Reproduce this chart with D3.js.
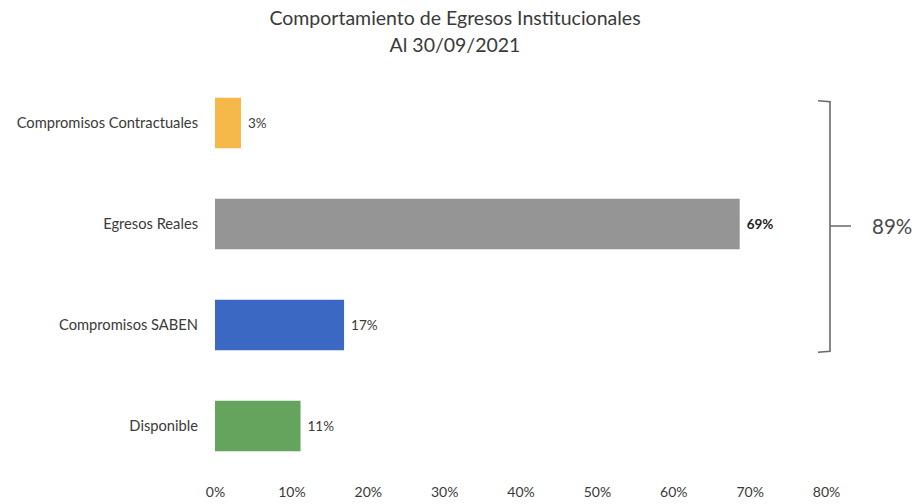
<!DOCTYPE html>
<html>
<head>
<meta charset="utf-8">
<script src="https://cdn.jsdelivr.net/npm/d3@7"></script>
<style>
  html, body { margin: 0; padding: 0; background: #fff; }
  svg { display: block; font-family: Lato, "Open Sans", sans-serif; }
</style>
</head>
<body>
<svg id="chart" width="915" height="504"></svg>
<script>
const titleLines = ["Comportamiento de Egresos Institucionales", "Al 30/09/2021"];
const categories = ["Compromisos Contractuales", "Egresos Reales", "Compromisos SABEN", "Disponible"];
const values = [3.4, 68.7, 16.9, 11.2];
const colors = ["#F7B84A", "#959595", "#3A68C2", "#64A45C"];
const tickValues = [0, 10, 20, 30, 40, 50, 60, 70, 80];
const bracketCategories = ["Compromisos Contractuales", "Egresos Reales", "Compromisos SABEN"];

(function () {
const svg = d3.select("#chart");
const textColor = "#3a3a3a";

const x = d3.scaleLinear().domain([0, 80]).range([215, 826]);
const y = d3.scaleBand().domain(categories).range([72.5, 476.5]).paddingInner(0.5).paddingOuter(0.25);

// Title
svg.append("g").selectAll("text").data(titleLines).join("text")
  .attr("x", 455).attr("y", (d, i) => 25 + i * 27)
  .attr("text-anchor", "middle")
  .attr("font-size", 19.5)
  .attr("fill", textColor)
  .text(d => d);

// Bars
svg.append("g").selectAll("rect").data(categories).join("rect")
  .attr("x", x(0))
  .attr("y", d => y(d))
  .attr("width", (d, i) => x(values[i]) - x(0))
  .attr("height", y.bandwidth())
  .attr("fill", (d, i) => colors[i]);

// Value labels
const fmt = v => Math.round(v) + "%";
svg.append("g").selectAll("text").data(categories).join("text")
  .attr("x", (d, i) => x(values[i]) + 7)
  .attr("y", d => y(d) + y.bandwidth() / 2)
  .attr("dy", "0.35em")
  .attr("font-size", 13.5)
  .attr("fill", (d, i) => i === 1 ? "#1e1e1e" : textColor)
  .attr("font-weight", (d, i) => i === 1 ? "bold" : "normal")
  .text((d, i) => fmt(values[i]));

// Y axis (category labels)
const yAxis = d3.axisLeft(y).tickSize(0).tickPadding(17);
const gy = svg.append("g").attr("transform", `translate(${x(0)},0)`).call(yAxis);
gy.select(".domain").remove();
gy.selectAll("text").attr("font-size", 14.7).attr("fill", textColor).attr("font-family", "Lato, sans-serif");

// X axis
const xAxis = d3.axisBottom(x).tickValues(tickValues).tickFormat(d => d + "%").tickSize(0).tickPadding(0);
const gx = svg.append("g").attr("transform", `translate(0,487)`).call(xAxis);
gx.select(".domain").remove();
gx.selectAll("text").attr("font-size", 14).attr("fill", textColor).attr("font-family", "Lato, sans-serif");

// Bracket
const bTop = y(bracketCategories[0]) + 3;
const bBottom = y(bracketCategories[bracketCategories.length - 1]) + y.bandwidth() + 2;
const bx = x(80) + 4;
const mid = 226;
const total = d3.sum(bracketCategories, c => values[categories.indexOf(c)]);
const path = d3.path();
path.moveTo(bx - 12, bTop);
path.lineTo(bx, bTop + 1);
path.lineTo(bx, bBottom - 1);
path.lineTo(bx - 12, bBottom);
path.moveTo(bx, mid);
path.lineTo(bx + 21, mid);
svg.append("path").attr("d", path.toString())
  .attr("fill", "none").attr("stroke", "#6a6a6a").attr("stroke-width", 1.6);
svg.append("text")
  .attr("x", bx + 42).attr("y", mid + 1).attr("dy", "0.35em")
  .attr("font-size", 20.5).attr("fill", "#4a4a4a")
  .text(Math.round(total) + "%");
})();
</script>
</body>
</html>
